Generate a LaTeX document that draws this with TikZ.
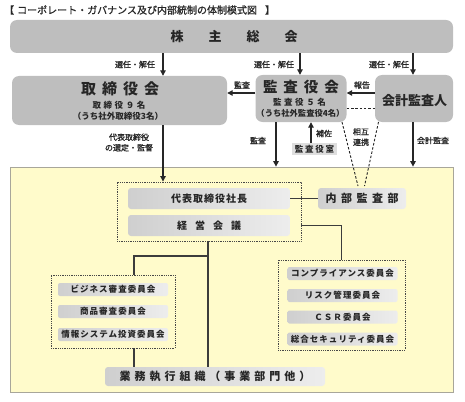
\documentclass[tikz,border=0pt]{standalone}
\usepackage{fontspec}
\setmainfont{Noto Sans CJK JP}
\usetikzlibrary{arrows.meta,calc}
\definecolor{boxgray}{HTML}{BEBEBE}
\definecolor{ylw}{HTML}{FFFBCB}
\definecolor{ylwedge}{HTML}{A8A69A}
\definecolor{ink}{HTML}{262626}
\definecolor{shadeA}{HTML}{CFCFCF}
\definecolor{shadeB}{HTML}{EDEDED}
\definecolor{roomgray}{HTML}{DEDEDE}
\begin{document}
\begin{tikzpicture}[x=1pt,y=-1pt,
  bigbox/.style={rounded corners=7pt, fill=boxgray, inner sep=0pt, text=ink},
  innerbox/.style={rounded corners=3pt, left color=shadeA, right color=shadeB, inner sep=0pt, text=ink},
  txt/.style={inner sep=0pt, text=ink, align=center},
  lbl/.style={inner sep=0pt, text=ink, align=center, font=\fontsize{8}{10.5}\selectfont\addfontfeature{FakeBold=1.2}},
  arr/.style={draw=ink, line width=1.1pt, -{Triangle[length=5.5pt,width=5.5pt]}},
  conn/.style={draw=ink!90, line width=1.1pt},
  dotbox/.style={draw=ink!85, line width=0.9pt, dash pattern=on 0.9pt off 0.9pt, inner sep=0pt},
  dsh/.style={draw=ink, line width=0.9pt, dash pattern=on 2.5pt off 1.8pt},
  comm/.style={innerbox, rounded corners=2pt, minimum width=110pt, minimum height=13pt,
    font=\fontsize{8.5}{9}\selectfont\bfseries\addfontfeature{LetterSpace=12}}
]
\useasboundingbox (0,0) rectangle (465,401);

% title
\node[txt, anchor=west, font=\fontsize{10}{11}\selectfont\addfontfeature{FakeBold=1}] (title) at (4,10)
  {【\hspace{3pt}コーポレート・ガバナンス及び内部統制の体制模式図\hspace{8pt}】};

% top boxes
\node[bigbox, minimum width=443pt, minimum height=33pt] (kabu) at (231.5,36.5) {};
\node[txt, font=\fontsize{13}{13}\selectfont\bfseries] (kabuT) at (234,36.5)
  {株\hspace{25pt}主\hspace{25pt}総\hspace{25pt}会};

\node[bigbox, minimum width=215pt, minimum height=49pt] (tori) at (119.5,100.5) {};
\node[txt, font=\fontsize{15}{15}\selectfont\bfseries] (toriT) at (120,89)
  {取\hspace{6pt}締\hspace{6pt}役\hspace{6pt}会};
\node[txt, font=\fontsize{8.5}{9}\selectfont\bfseries\addfontfeature{LetterSpace=30}] (toriN) at (119,105) {取締役９名};
\node[txt, font=\fontsize{8.5}{9}\selectfont\bfseries] (toriS) at (118,116) {（うち社外取締役3名）};

\node[bigbox, minimum width=91pt, minimum height=47pt] (kansa) at (301,98.5) {};
\node[txt, font=\fontsize{14.5}{14.5}\selectfont\bfseries] (kansaT) at (301,87)
  {監\hspace{6pt}査\hspace{6pt}役\hspace{6pt}会};
\node[txt, font=\fontsize{8.5}{9}\selectfont\bfseries\addfontfeature{LetterSpace=30}] (kansaN) at (299.5,102.5) {監査役５名};
\node[txt, font=\fontsize{8.3}{9}\selectfont\bfseries] (kansaS) at (300.5,113.5) {（うち社外監査役4名）};

\node[bigbox, minimum width=78pt, minimum height=47pt] (kaikei) at (414,98.5) {};
\node[txt, font=\fontsize{13}{13}\selectfont\bfseries] (kaikeiT) at (414.5,101) {会計監査人};

% audit room
\node[inner sep=0pt, fill=roomgray, minimum width=45pt, minimum height=12pt,
  font=\fontsize{8.5}{9}\selectfont\bfseries\addfontfeature{LetterSpace=20}, text=ink] (room) at (314.5,149) {監査役室};

% yellow area
\node[draw=ylwedge, fill=ylw, line width=0.8pt, inner sep=0pt, minimum width=443pt, minimum height=225pt] (area) at (231.5,279.5) {};

% management group
\node[dotbox, minimum width=184pt, minimum height=59pt] (mgmt) at (209,211.5) {};
\node[innerbox, minimum width=162pt, minimum height=21pt,
  font=\fontsize{10}{10}\selectfont\bfseries\addfontfeature{LetterSpace=10}] (shacho) at (209,198.5) {代表取締役社長};
\node[innerbox, minimum width=162pt, minimum height=21pt,
  font=\fontsize{10}{10}\selectfont\bfseries] (keiei) at (209,225.5) {経\hspace{8pt}営\hspace{8pt}会\hspace{8pt}議};
\node[innerbox, minimum width=88pt, minimum height=21pt,
  font=\fontsize{11}{11}\selectfont\bfseries] (naibu) at (362,198.5) {内\hspace{4.5pt}部\hspace{4.5pt}監\hspace{4.5pt}査\hspace{4.5pt}部};

% right committees
\node[dotbox, minimum width=127pt, minimum height=90pt] (rgroup) at (341.5,305) {};
\node[comm] (comp) at (342.5,273.5) {コンプライアンス委員会};
\node[comm] (risk) at (342.5,295.5) {リスク管理委員会};
\node[comm] (csr) at (342.5,317) {ＣＳＲ委員会};
\node[comm] (sec) at (342.5,339) {総合セキュリティ委員会};

% left committees
\node[dotbox, minimum width=124pt, minimum height=73pt] (lgroup) at (113,311.5) {};
\node[comm] (biz) at (113,289.5) {ビジネス審査委員会};
\node[comm] (prod) at (113,311.5) {商品審査委員会};
\node[comm] (info) at (113,334.5) {情報システム投資委員会};

% operations
\node[innerbox, minimum width=220pt, minimum height=19pt,
  font=\fontsize{11}{11}\selectfont\bfseries\addfontfeature{LetterSpace=36}] (gyomu) at (215,376.5) {業務執行組織（事業部門他）};

% helper x positions
\coordinate (xa) at (163,0);
\coordinate (xb) at (300,0);
\coordinate (xc) at (413,0);
\coordinate (xd) at (276,0);
\coordinate (xe) at (311,0);
\coordinate (xf) at (208,0);
\coordinate (xg) at (134,0);
\coordinate (yh) at (0,93);
\coordinate (yi) at (0,108.5);
\coordinate (yj) at (0,256);
\coordinate (m1) at (358,186);
\coordinate (m2) at (364.5,186);
\coordinate (s1) at (342,122);
\coordinate (s2) at (378.5,122);

% election arrows
\draw[arr] (kabu.south -| xa) -- (tori.north -| xa);
\draw[arr] (kabu.south -| xb) -- (kansa.north -| xb);
\draw[arr] (kabu.south -| xc) -- (kaikei.north -| xc);
\node[lbl] (el1) at (135,64.5) {選任・解任};
\node[lbl] (el2) at (274,64.5) {選任・解任};
\node[lbl] (el3) at (389,64.5) {選任・解任};

% horizontal arrows
\draw[arr] (kansa.west |- yh) -- (tori.east |- yh);
\node[lbl] (la1) at (242,85) {監査};
\draw[arr] (kaikei.west |- yh) -- (kansa.east |- yh);
\node[lbl] (la2) at (362,85) {報告};
\draw[dsh] (kansa.east |- yi) -- (kaikei.west |- yi);

% downward arrows
\draw[arr] (tori.south -| xa) -- (mgmt.north -| xa);
\node[lbl] (la3) at (129,142.5) {代表取締役\\の選定・監督};
\draw[arr] (kansa.south -| xd) -- (area.north -| xd);
\node[lbl] (la4) at (258,140.5) {監査};
\draw[arr] (room.north -| xe) -- (kansa.south -| xe);
\node[lbl] (la5) at (324,133.5) {補佐};
\draw[arr] (kaikei.south -| xc) -- (area.north -| xc);
\node[lbl] (la6) at (433,140.5) {会計監査};
\node[lbl] (la7) at (361,137) {相互\\連携};

% mutual cooperation dashed lines
\draw[dsh] (s1) -- (m1);
\draw[dsh] (s2) -- (m2);

% internal connectors
\draw[conn] (shacho.east) -- (naibu.west);
\draw[conn] (mgmt.east |- keiei) -| (rgroup.north);
\draw[conn] (mgmt.south -| xf) -- (gyomu.north -| xf);
\draw[conn] (yj -| xf) -| (lgroup.north -| xg);
\draw[conn] (lgroup.south -| xg) -- (gyomu.north -| xg);
\end{tikzpicture}
\end{document}
